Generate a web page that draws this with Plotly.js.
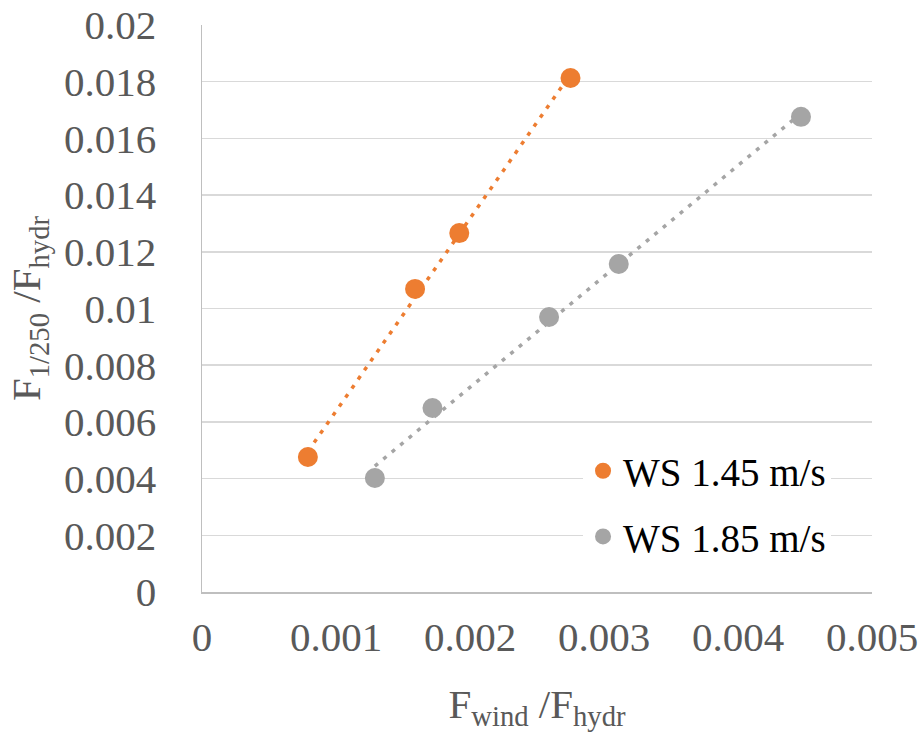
<!DOCTYPE html>
<html>
<head>
<meta charset="utf-8">
<script src="https://cdn.plot.ly/plotly-3.0.1.min.js"></script>
<style>html,body{margin:0;padding:0;background:#fff;}#chart{width:922px;height:736px;}</style>
</head>
<body>
<div id="chart"></div>
<script>
// Data
var seriesNames = ["WS 1.45 m/s", "WS 1.85 m/s"];
var ws145_x = [0.00079, 0.00159, 0.00192, 0.00275];
var ws145_y = [0.00476, 0.01069, 0.01266, 0.01813];
var ws185_x = [0.00129, 0.00172, 0.00259, 0.00311, 0.00447];
var ws185_y = [0.00402, 0.00649, 0.00970, 0.01157, 0.01676];
var xTickVals = [0, 0.001, 0.002, 0.003, 0.004, 0.005];
var yTickVals = [0, 0.002, 0.004, 0.006, 0.008, 0.01, 0.012, 0.014, 0.016, 0.018, 0.02];

var colors = ["#ED7D31", "#A5A5A5"];

// Linear trendline over the data's x range (least squares)
function trend(xs, ys) {
  var n = xs.length, sx = 0, sy = 0, sxx = 0, sxy = 0;
  for (var i = 0; i < n; i++) { sx += xs[i]; sy += ys[i]; sxx += xs[i]*xs[i]; sxy += xs[i]*ys[i]; }
  var b = (n*sxy - sx*sy) / (n*sxx - sx*sx);
  var a = (sy - b*sx) / n;
  var x0 = Math.min.apply(null, xs), x1 = Math.max.apply(null, xs);
  return {x: [x0, x1], y: [a + b*x0, a + b*x1]};
}
var t1 = trend(ws145_x, ws145_y);
var t2 = trend(ws185_x, ws185_y);

var data = [
  {x: t1.x, y: t1.y, mode: "lines", type: "scatter", showlegend: false, hoverinfo: "skip",
   line: {color: colors[0], width: 3.5, dash: "4px,7px"}},
  {x: t2.x, y: t2.y, mode: "lines", type: "scatter", showlegend: false, hoverinfo: "skip",
   line: {color: colors[1], width: 3.5, dash: "4px,7px"}},
  {x: ws145_x, y: ws145_y, mode: "markers", type: "scatter", name: seriesNames[0], legendgroup: "a",
   marker: {color: colors[0], size: 20}},
  {x: ws185_x, y: ws185_y, mode: "markers", type: "scatter", name: seriesNames[1], legendgroup: "b",
   marker: {color: colors[1], size: 20}}
];

var serif = "'Liberation Serif', 'Times New Roman', serif";
var tickFont = {family: serif, size: 41, color: "#595959"};

var layout = {
  width: 922, height: 736,
  margin: {l: 202, r: 50, t: 25, b: 144, pad: 0},
  paper_bgcolor: "#ffffff", plot_bgcolor: "#ffffff",
  font: {family: serif},
  showlegend: true,
  legend: {
    x: 0.5687, xanchor: "left", y: 0.27, yanchor: "top",
    bgcolor: "#ffffff", borderwidth: 0,
    font: {family: serif, size: 39, color: "#000000"},
    tracegroupgap: 12, traceorder: "grouped"
  },
  xaxis: {
    range: [0, 0.005], tickvals: xTickVals, showgrid: false, zeroline: false,
    showline: true, linecolor: "#BFBFBF", linewidth: 1.5,
    ticks: "outside", ticklen: 8, tickcolor: "rgba(0,0,0,0)", tickfont: tickFont,
    title: {text: "F<sub>wind</sub> /F<sub>hydr</sub>", font: tickFont, standoff: 30}
  },
  yaxis: {
    range: [0, 0.02], tickvals: yTickVals, showgrid: true, gridcolor: "#D9D9D9", gridwidth: 1.5,
    zeroline: false, showline: true, linecolor: "#BFBFBF", linewidth: 1.5,
    ticks: "outside", ticklen: 36, tickcolor: "rgba(0,0,0,0)", tickfont: tickFont,
    title: {text: "F<sub>1/250</sub> /F<sub>hydr</sub>", font: tickFont, standoff: 10}
  }
};

Plotly.newPlot("chart", data, layout, {displayModeBar: false, staticPlot: true});
</script>
</body>
</html>
